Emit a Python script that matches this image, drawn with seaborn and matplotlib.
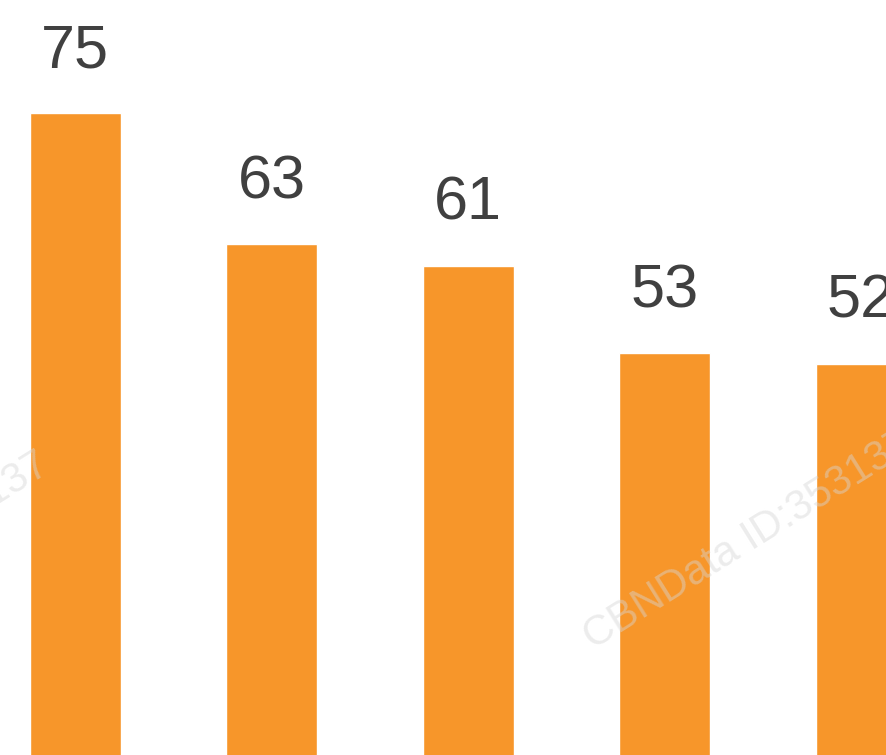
import matplotlib
matplotlib.use("Agg")
import matplotlib.pyplot as plt
import seaborn as sns
import pandas as pd

# values (category names are cropped out)
categories = ["A", "B", "C", "D", "E"]
values = [75, 63, 61, 53, 52]
watermark = "CBNData ID:353137"

df = pd.DataFrame({"cat": categories, "val": values})

sns.set_style("white")
plt.rcParams["font.family"] = ["Liberation Sans", "DejaVu Sans"]

fig = plt.figure(figsize=(8.87, 7.55), dpi=100)
ax = fig.add_axes([0, 0, 1, 1])

sns.barplot(data=df, x="cat", y="val", color="#F7962A", saturation=1,
            width=0.463, ax=ax, zorder=3)

for i, v in enumerate(values):
    ax.text(i, v + 4.2, str(v), ha="center", va="baseline",
            fontsize=44, color="#404040", zorder=4)

ax.set_xlim(-0.384, 4.132)
ax.set_ylim(16.1, 85.37)
ax.axis("off")

# faint see-through watermark over everything
for x0, y0 in [(0.668, 0.139), (-0.304, 0.110)]:
    fig.text(x0, y0, watermark, rotation=32, rotation_mode="anchor",
             ha="left", va="baseline", fontsize=30, color="#d6d6d6",
             alpha=0.45, zorder=10)

fig.savefig("out.png", dpi=100)
